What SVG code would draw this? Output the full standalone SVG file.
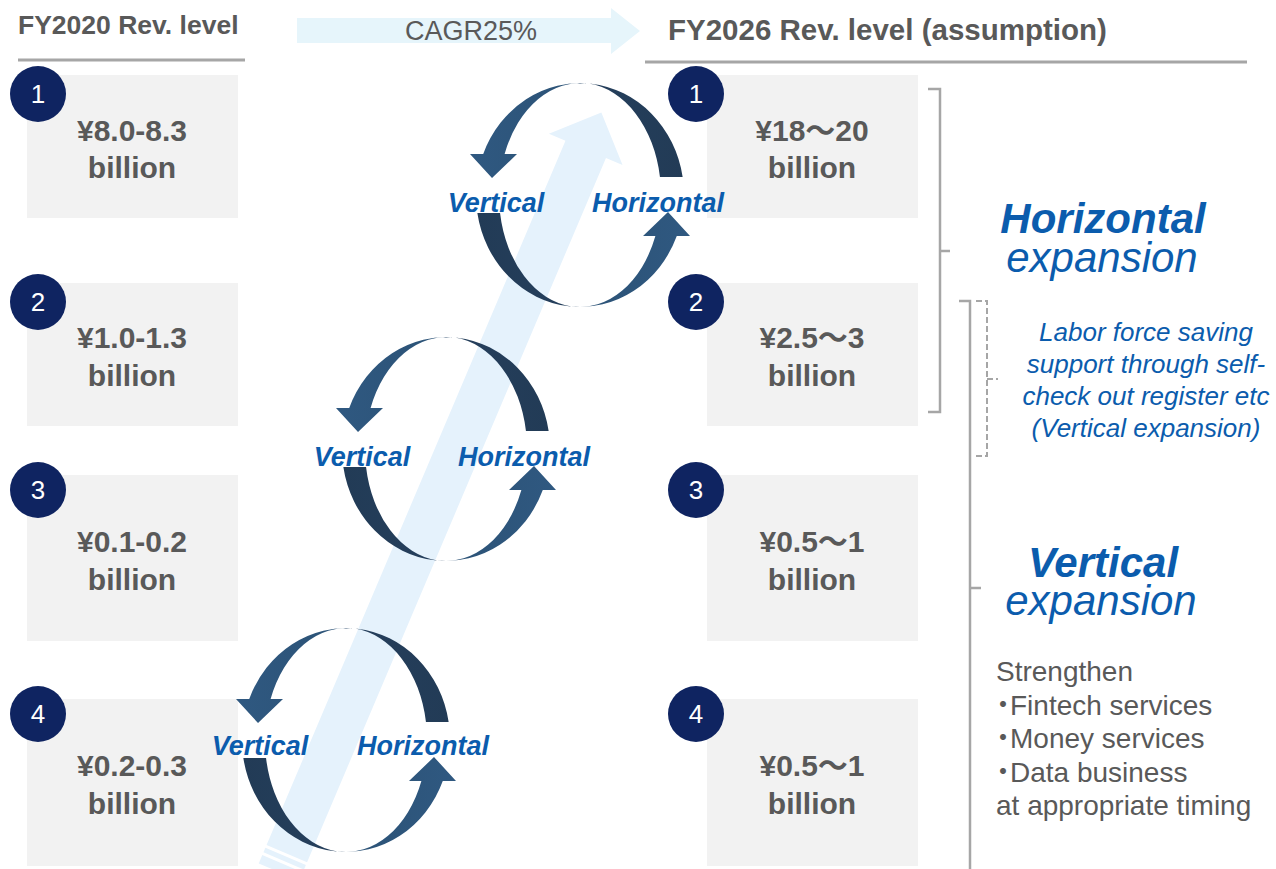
<svg xmlns="http://www.w3.org/2000/svg" xmlns:xlink="http://www.w3.org/1999/xlink" width="1276" height="869" viewBox="0 0 1276 869">
  <style>
    text { font-family: "Liberation Sans", Arial, "Noto Sans CJK JP", sans-serif; }
    .box { fill: #f2f2f2; }
    .val { font-size: 30px; font-weight: bold; fill: #595959; text-anchor: middle; }
    .badge { fill: #0f2461; }
    .num { font-size: 26px; fill: #ffffff; text-anchor: middle; }
    .head { font-weight: bold; fill: #595959; }
    .rule { stroke: #a6a6a6; stroke-width: 3; fill: none; }
    .lbl { font-size: 27px; font-weight: bold; font-style: italic; fill: #0b5cad; text-anchor: middle; }
    .big { font-size: 42px; font-style: italic; fill: #0b5cad; text-anchor: middle; }
    .note { font-size: 26px; font-style: italic; fill: #0b5cad; text-anchor: middle; }
    .plain { font-size: 28px; fill: #595959; font-feature-settings: "halt"; }
    .brk { stroke: #a6a6a6; stroke-width: 2.5; fill: none; }
    .brkd { stroke: #a6a6a6; stroke-width: 2; fill: none; stroke-dasharray: 6 3; }
  </style>
  <defs>
    <linearGradient id="arcShade" gradientUnits="userSpaceOnUse" x1="-104" y1="0" x2="104" y2="0">
      <stop offset="0" stop-color="#2f5880"/>
      <stop offset="0.44" stop-color="#2c5377"/>
      <stop offset="0.56" stop-color="#253f5c"/>
      <stop offset="1" stop-color="#223b56"/>
    </linearGradient>
    <!-- one half of the cycle: band over the top ending in a downward arrowhead -->
    <path id="halfArc" fill="url(#arcShade)" d="M102.65,-18 A104,112 0 0 0 -96.78,-41 L-110,-41 L-88,-17 L-63,-41 L-75.38,-41 A81,112 0 0 1 79.95,-18 Z"/>
    <g id="cycle">
      <use xlink:href="#halfArc"/>
      <use xlink:href="#halfArc" transform="rotate(180)"/>
    </g>
  </defs>

  <!-- headers -->
  <g id="header-left">
    <text class="head" x="18" y="34" font-size="26.5">FY2020 Rev. level</text>
    <line class="rule" x1="18" y1="60" x2="245" y2="60"/>
  </g>
  <g id="header-right">
    <text class="head" x="668" y="40" font-size="29.5">FY2026 Rev. level (assumption)</text>
    <line class="rule" x1="645" y1="62" x2="1247" y2="62"/>
  </g>
  <g id="cagr">
    <polygon fill="#e6f5fb" points="297,18 611,18 611,8 640,31 611,54 611,43 297,43"/>
    <text x="471" y="40" font-size="27" fill="#595959" text-anchor="middle">CAGR25%</text>
  </g>

  <!-- FY2020 column -->
  <g id="l1">
    <rect class="box" x="27" y="75" width="211" height="143"/>
    <text class="val" x="132" y="141">¥8.0-8.3</text>
    <text class="val" x="132" y="178">billion</text>
    <circle class="badge" cx="38" cy="94" r="28"/>
    <text class="num" x="38" y="103">1</text>
  </g>
  <g id="l2">
    <rect class="box" x="27" y="283" width="211" height="143"/>
    <text class="val" x="132" y="348">¥1.0-1.3</text>
    <text class="val" x="132" y="386">billion</text>
    <circle class="badge" cx="38" cy="302" r="28"/>
    <text class="num" x="38" y="311">2</text>
  </g>
  <g id="l3">
    <rect class="box" x="27" y="475" width="211" height="166"/>
    <text class="val" x="132" y="552">¥0.1-0.2</text>
    <text class="val" x="132" y="590">billion</text>
    <circle class="badge" cx="38" cy="490" r="28"/>
    <text class="num" x="38" y="499">3</text>
  </g>
  <g id="l4">
    <rect class="box" x="27" y="699" width="211" height="167"/>
    <text class="val" x="132" y="776">¥0.2-0.3</text>
    <text class="val" x="132" y="814">billion</text>
    <circle class="badge" cx="38" cy="714" r="28"/>
    <text class="num" x="38" y="723">4</text>
  </g>

  <!-- FY2026 column -->
  <g id="r1">
    <rect class="box" x="707" y="75" width="211" height="143"/>
    <text class="val" x="812" y="141">¥18～20</text>
    <text class="val" x="812" y="178">billion</text>
    <circle class="badge" cx="696" cy="94" r="28"/>
    <text class="num" x="696" y="103">1</text>
  </g>
  <g id="r2">
    <rect class="box" x="707" y="283" width="211" height="143"/>
    <text class="val" x="812" y="348">¥2.5～3</text>
    <text class="val" x="812" y="386">billion</text>
    <circle class="badge" cx="696" cy="302" r="28"/>
    <text class="num" x="696" y="311">2</text>
  </g>
  <g id="r3">
    <rect class="box" x="707" y="475" width="211" height="166"/>
    <text class="val" x="812" y="552">¥0.5～1</text>
    <text class="val" x="812" y="590">billion</text>
    <circle class="badge" cx="696" cy="490" r="28"/>
    <text class="num" x="696" y="499">3</text>
  </g>
  <g id="r4">
    <rect class="box" x="707" y="699" width="211" height="167"/>
    <text class="val" x="812" y="776">¥0.5～1</text>
    <text class="val" x="812" y="814">billion</text>
    <circle class="badge" cx="696" cy="714" r="28"/>
    <text class="num" x="696" y="723">4</text>
  </g>

  <!-- connectors: growth arrow and expansion cycles -->
  <g id="connectors">
    <g id="growth-arrow" transform="translate(279,872) rotate(23)" fill="#e5f2fc">
      <polygon points="-22,-20 -22,-785 -40,-785 0,-825 40,-785 22,-785 22,-20"/>
      <rect x="-22" y="-17" width="44" height="5"/>
      <rect x="-22" y="-9" width="44" height="9"/>
    </g>
    <g id="cycle-1" transform="translate(580,195)">
      <use xlink:href="#cycle"/>
      <text class="lbl" x="-84" y="17">Vertical</text>
      <text class="lbl" x="78" y="17">Horizontal</text>
    </g>
    <g id="cycle-2" transform="translate(446,449)">
      <use xlink:href="#cycle"/>
      <text class="lbl" x="-84" y="17">Vertical</text>
      <text class="lbl" x="78" y="17">Horizontal</text>
    </g>
    <g id="cycle-3" transform="translate(346,740)">
      <use xlink:href="#cycle"/>
      <text class="lbl" x="-86" y="15">Vertical</text>
      <text class="lbl" x="77" y="15">Horizontal</text>
    </g>
  </g>

  <!-- brackets -->
  <g id="bracket-horizontal">
    <path class="brk" d="M928,89 H940 V412 H928 M940,251 H950"/>
  </g>
  <g id="bracket-vertical">
    <path class="brk" d="M959,301 H970 V869 M970,588 H981"/>
  </g>
  <g id="bracket-labor">
    <path class="brkd" d="M976,301 H987 V456 H976 M987,379 H998"/>
  </g>

  <!-- right-hand notes -->
  <g id="horizontal-expansion">
    <text class="big" x="1103" y="233" font-weight="bold">Horizontal</text>
    <text class="big" x="1102" y="272">expansion</text>
  </g>
  <g id="labor-note">
    <text class="note" x="1146" y="341">Labor force saving</text>
    <text class="note" x="1146" y="373">support through self-</text>
    <text class="note" x="1146" y="405">check out register etc</text>
    <text class="note" x="1146" y="437">(Vertical expansion)</text>
  </g>
  <g id="vertical-expansion">
    <text class="big" x="1103" y="577" font-weight="bold">Vertical</text>
    <text class="big" x="1101" y="615">expansion</text>
  </g>
  <g id="strengthen-note">
    <text class="plain" x="996" y="681">Strengthen</text>
    <text class="plain" x="996" y="715">・Fintech services</text>
    <text class="plain" x="996" y="748">・Money services</text>
    <text class="plain" x="996" y="782">・Data business</text>
    <text class="plain" x="996" y="815">at appropriate timing</text>
  </g>
</svg>
